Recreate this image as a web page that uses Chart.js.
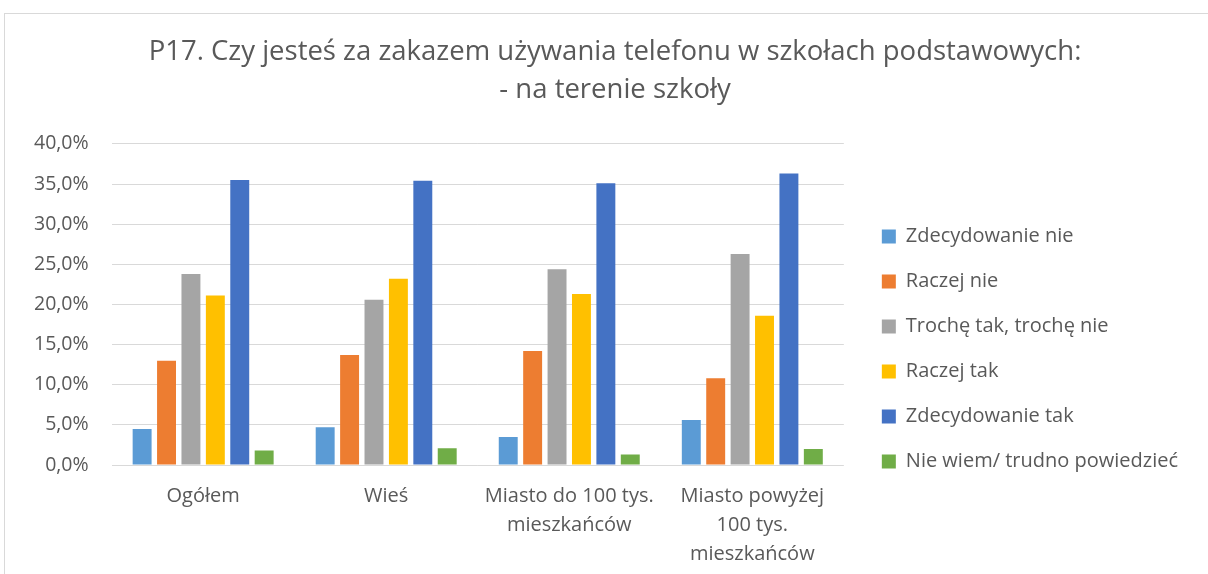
<!DOCTYPE html>
<html lang="pl">
<head>
  <meta charset="UTF-8">
  <title>P17 - zakaz telefonu na terenie szkoły</title>
  <script src="https://cdn.jsdelivr.net/npm/chart.js"></script>
  <style>
    body { margin: 0; background: #fff; overflow: hidden; }
    .ramka { position: absolute; left: 4px; top: 13px; width: 1300px; height: 700px; border: 1px solid #d9d9d9; }
    .box { position: absolute; left: 0; top: 0; width: 1208px; height: 592px; }
  </style>
</head>
<body>
  <div class="ramka"></div>
  <div class="box"><canvas id="wykres"></canvas></div>

  <script>
    const kategorie = ['Ogółem', 'Wieś', ['Miasto do 100 tys.', 'mieszkańców'], ['Miasto powyżej', '100 tys.', 'mieszkańców']];
    const serie = ['Zdecydowanie nie', 'Raczej nie', 'Trochę tak, trochę nie', 'Raczej tak', 'Zdecydowanie tak', 'Nie wiem/ trudno powiedzieć'];
    const kolory = ['#5B9BD5', '#ED7D31', '#A5A5A5', '#FFC000', '#4472C4', '#70AD47'];

    const zdecydowanieNie = [4.5, 4.7, 3.5, 5.6];
    const raczejNie = [13.0, 13.7, 14.2, 10.8];
    const trocheTak = [23.8, 20.6, 24.4, 26.3];
    const raczejTak = [21.1, 23.2, 21.3, 18.6];
    const zdecydowanieTak = [35.5, 35.4, 35.1, 36.3];
    const nieWiem = [1.8, 2.1, 1.3, 2.0];

    const wartosci = [zdecydowanieNie, raczejNie, trocheTak, raczejTak, zdecydowanieTak, nieWiem];
    const fmt = v => v.toFixed(1).replace('.', ',') + '%';
    const szary = '#595959';

    // legenda w Excelu siedzi niżej, a tytuł jest lekko w prawo
    const przesunBloki = {
      id: 'przesunBloki',
      afterLayout(chart) {
        chart.legend.top += 56;
        chart.legend.bottom += 56;
        chart.titleBlock.left += 31;
      }
    };

    new Chart(document.getElementById('wykres'), {
      type: 'bar',
      data: {
        labels: kategorie,
        datasets: serie.map((s, i) => ({
          label: s,
          data: wartosci[i],
          backgroundColor: kolory[i],
          categoryPercentage: 0.80,
          barPercentage: 0.776
        }))
      },
      options: {
        responsive: true,
        maintainAspectRatio: false,
        animation: false,
        layout: { padding: { left: 11, right: 20, top: 0, bottom: 6 } },
        plugins: {
          title: {
            display: true,
            text: ['P17. Czy jesteś za zakazem używania telefonu w szkołach podstawowych:', '- na terenie szkoły'],
            color: szary,
            font: { family: 'Open Sans', size: 27.5, weight: 'normal', lineHeight: 1.38 },
            padding: { top: 33, bottom: 35 }
          },
          legend: {
            position: 'right',
            maxWidth: 420,
            labels: {
              color: szary,
              font: { family: 'Open Sans', size: 20 },
              boxWidth: 14,
              boxHeight: 14,
              padding: 25
            }
          },
          tooltip: { enabled: false }
        },
        scales: {
          x: {
            grid: { display: false, drawTicks: false },
            border: { display: false },
            ticks: { color: szary, font: { family: 'Open Sans', size: 20, lineHeight: 1.45 }, maxRotation: 0, padding: 17 }
          },
          y: {
            min: 0,
            max: 40,
            ticks: { stepSize: 5, color: szary, font: { family: 'Open Sans', size: 19.5 }, callback: fmt, padding: 23 },
            grid: { color: '#d9d9d9', drawTicks: false },
            border: { display: false }
          },
          odstep: {
            position: 'right',
            grid: { display: false, drawTicks: false },
            border: { display: false },
            ticks: { display: false },
            afterFit: s => { s.width = 13; }
          }
        }
      },
      plugins: [przesunBloki]
    });
  </script>
</body>
</html>
